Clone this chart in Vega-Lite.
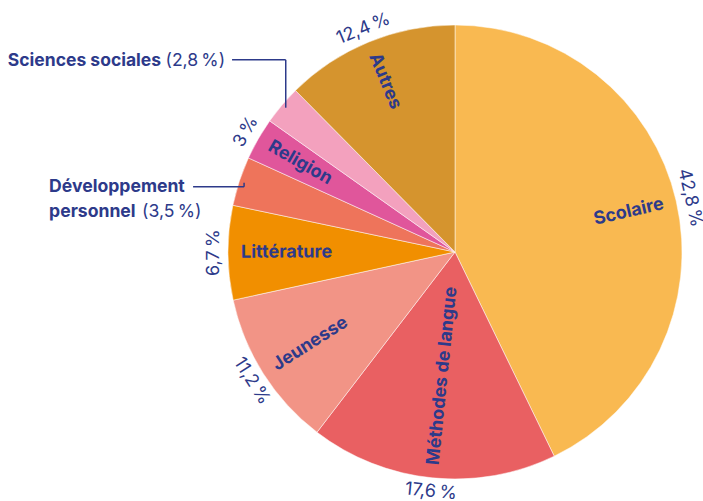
{
  "$schema": "https://vega.github.io/schema/vega-lite/v6.json",
  "width": 456,
  "height": 456,
  "autosize": {"type": "none"},
  "padding": {"left": 227, "top": 24, "right": 20, "bottom": 21},
  "background": "white",
  "config": {"view": {"stroke": null}, "text": {"font": "Inter", "color": "#2D3A8A"}},
  "data": {"values": [
    {"cat": "Scolaire", "pct": 42.8, "order": 1},
    {"cat": "Méthodes de langue", "pct": 17.6, "order": 2},
    {"cat": "Jeunesse", "pct": 11.2, "order": 3},
    {"cat": "Littérature", "pct": 6.7, "order": 4},
    {"cat": "Développement personnel", "pct": 3.5, "order": 5},
    {"cat": "Religion", "pct": 3.0, "order": 6},
    {"cat": "Sciences sociales", "pct": 2.8, "order": 7},
    {"cat": "Autres", "pct": 12.4, "order": 8}
  ]},
  "transform": [
    {"window": [{"op": "sum", "field": "pct", "as": "cum"}], "sort": [{"field": "order"}], "frame": [null, 0]},
    {"joinaggregate": [{"op": "sum", "field": "pct", "as": "total"}]},
    {"calculate": "(datum.cum - datum.pct / 2) / datum.total", "as": "mid"},
    {"calculate": "datum.mid * 360", "as": "deg"},
    {"calculate": "sin(datum.mid * 2 * PI)", "as": "sx"},
    {"calculate": "cos(datum.mid * 2 * PI)", "as": "cy"},
    {"calculate": "datum.deg < 180 ? datum.deg - 90 : datum.deg - 270", "as": "radAngle"},
    {"calculate": "datum.deg < 90 ? datum.deg : (datum.deg < 265 ? datum.deg - 180 : datum.deg - 360)", "as": "tanAngle"},
    {"calculate": "replace(format(datum.pct, '.1~f'), '.', ',') + '\u2009%'", "as": "pctLabel"},
    {"calculate": "datum.cat == 'Sciences sociales' || datum.cat == 'Développement personnel'", "as": "callout"}
  ],
  "layer": [
    {
      "mark": {"type": "arc", "outerRadius": 227, "stroke": "#ffffff", "strokeWidth": 0.5},
      "encoding": {
        "theta": {"field": "pct", "type": "quantitative", "stack": true, "scale": {"domain": [0, 100]}},
        "order": {"field": "order", "type": "quantitative"},
        "color": {
          "field": "cat", "type": "nominal", "legend": null,
          "scale": {
            "domain": ["Scolaire", "Méthodes de langue", "Jeunesse", "Littérature", "Développement personnel", "Religion", "Sciences sociales", "Autres"],
            "range": ["#F9B951", "#E96062", "#F29486", "#F18F00", "#EE745B", "#E0569B", "#F3A1BE", "#D5942E"]
          }
        }
      }
    },
    {
      "transform": [{"filter": "!datum.callout && datum.deg < 180"},
        {"calculate": "214 * datum.sx", "as": "ix"}, {"calculate": "214 * datum.cy", "as": "iy"}],
      "mark": {"type": "text", "fontWeight": "bold", "fontSize": 18, "align": "right", "baseline": "middle"},
      "encoding": {
        "x": {"field": "ix", "type": "quantitative", "scale": {"domain": [-228, 228], "nice": false, "zero": false}, "axis": null},
        "y": {"field": "iy", "type": "quantitative", "scale": {"domain": [-228, 228], "nice": false, "zero": false}, "axis": null},
        "angle": {"field": "radAngle", "type": "quantitative", "scale": null},
        "text": {"field": "cat"}
      }
    },
    {
      "transform": [{"filter": "!datum.callout && datum.deg >= 180"},
        {"calculate": "214 * datum.sx", "as": "ix"}, {"calculate": "214 * datum.cy", "as": "iy"}],
      "mark": {"type": "text", "fontWeight": "bold", "fontSize": 18, "align": "left", "baseline": "middle"},
      "encoding": {
        "x": {"field": "ix", "type": "quantitative"},
        "y": {"field": "iy", "type": "quantitative"},
        "angle": {"field": "radAngle", "type": "quantitative", "scale": null},
        "text": {"field": "cat"}
      }
    },
    {
      "transform": [{"filter": "!datum.callout"},
        {"calculate": "241 * datum.sx", "as": "ox"}, {"calculate": "241 * datum.cy", "as": "oy"}],
      "mark": {"type": "text", "fontSize": 18, "align": "center", "baseline": "middle"},
      "encoding": {
        "x": {"field": "ox", "type": "quantitative"},
        "y": {"field": "oy", "type": "quantitative"},
        "angle": {"field": "tanAngle", "type": "quantitative", "scale": null},
        "text": {"field": "pctLabel"}
      }
    },
    {
      "transform": [{"filter": "datum.callout"},
        {"calculate": "222 * datum.sx", "as": "p1x"},
        {"calculate": "datum.cat == 'Sciences sociales' ? 223 * datum.cy : 222 * datum.cy", "as": "p1y"},
        {"calculate": "datum.cat == 'Sciences sociales' ? 297 * datum.cy : 222 * datum.cy - 4", "as": "ly"}],
      "mark": {"type": "rule", "color": "#2D3A8A", "strokeWidth": 1.5},
      "encoding": {
        "x": {"field": "p1x", "type": "quantitative"},
        "y": {"field": "p1y", "type": "quantitative"},
        "y2": {"field": "ly"}
      }
    },
    {
      "transform": [{"filter": "datum.callout"},
        {"calculate": "222 * datum.sx", "as": "p1x"},
        {"calculate": "datum.cat == 'Sciences sociales' ? 297 * datum.cy : 222 * datum.cy - 4", "as": "ly"},
        {"calculate": "datum.cat == 'Sciences sociales' ? 297 * datum.sx + 3.5 : 222 * datum.sx - 51", "as": "lx"}],
      "mark": {"type": "rule", "color": "#2D3A8A", "strokeWidth": 1.5},
      "encoding": {
        "x": {"field": "p1x", "type": "quantitative"},
        "x2": {"field": "lx"},
        "y": {"field": "ly", "type": "quantitative"}
      }
    },
    {
      "transform": [{"filter": "datum.cat == 'Sciences sociales'"},
        {"calculate": "297 * datum.sx + 3.5 - 7", "as": "tx"},
        {"calculate": "297 * datum.cy - 1", "as": "ty"},
        {"calculate": "'(' + replace(format(datum.pct, '.1~f'), '.', ',') + '\u2009%)'", "as": "paren"}],
      "layer": [
        {
          "mark": {"type": "text", "fontSize": 17.6, "align": "right", "baseline": "middle"},
          "encoding": {
            "x": {"field": "tx", "type": "quantitative"},
            "y": {"field": "ty", "type": "quantitative"},
            "text": {"field": "paren"}
          }
        },
        {
          "mark": {"type": "text", "fontSize": 17.5, "fontWeight": "bold", "align": "right", "baseline": "middle", "dx": -64},
          "encoding": {
            "x": {"field": "tx", "type": "quantitative"},
            "y": {"field": "ty", "type": "quantitative"},
            "text": {"field": "cat"}
          }
        }
      ]
    },
    {
      "transform": [{"filter": "datum.cat == 'Développement personnel'"},
        {"calculate": "222 * datum.sx - 51 - 7 - 137", "as": "tx"},
        {"calculate": "222 * datum.cy - 4", "as": "ty"},
        {"calculate": "split(datum.cat, ' ')[0]", "as": "w1"},
        {"calculate": "split(datum.cat, ' ')[1]", "as": "w2"},
        {"calculate": "'(' + replace(format(datum.pct, '.1~f'), '.', ',') + '\u2009%)'", "as": "paren"}],
      "layer": [
        {
          "mark": {"type": "text", "fontSize": 17.6, "fontWeight": "bold", "align": "left", "baseline": "middle"},
          "encoding": {
            "x": {"field": "tx", "type": "quantitative"},
            "y": {"field": "ty", "type": "quantitative"},
            "text": {"field": "w1"}
          }
        },
        {
          "mark": {"type": "text", "fontSize": 17.6, "fontWeight": "bold", "align": "left", "baseline": "middle", "dy": 25},
          "encoding": {
            "x": {"field": "tx", "type": "quantitative"},
            "y": {"field": "ty", "type": "quantitative"},
            "text": {"field": "w2"}
          }
        },
        {
          "mark": {"type": "text", "fontSize": 17.6, "align": "left", "baseline": "middle", "dy": 25, "dx": 93},
          "encoding": {
            "x": {"field": "tx", "type": "quantitative"},
            "y": {"field": "ty", "type": "quantitative"},
            "text": {"field": "paren"}
          }
        }
      ]
    }
  ]
}
